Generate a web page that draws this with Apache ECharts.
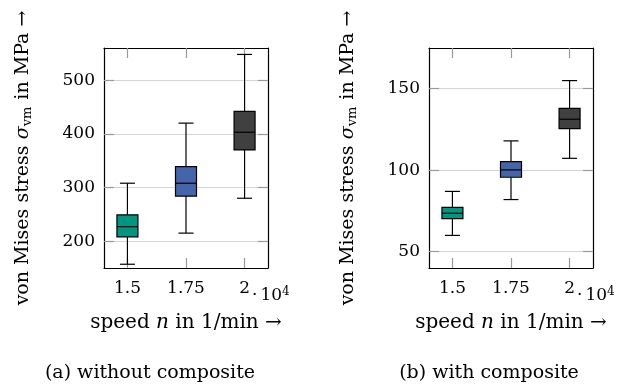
<!DOCTYPE html>
<html>
<head>
<meta charset="utf-8">
<script src="https://cdn.jsdelivr.net/npm/echarts@6/dist/echarts.min.js"></script>
<style>
  html, body { margin: 0; padding: 0; background: #fff; }
  #chart { width: 630px; height: 385px; }
</style>
</head>
<body>
<div id="chart"></div>
<script>
// speed in 1/min (x 10^4)
const speeds = [1.5, 1.75, 2];
const xTicks = [1.5, 1.75, 2];

// [min, Q1, median, Q3, max] in MPa
const withoutComposite = [
  [157, 208, 227, 249, 308],
  [215, 284, 308, 339, 420],
  [280, 370, 403, 442, 548]
];
const withComposite = [
  [60, 70.3, 73.6, 77.2, 87],
  [82, 95.7, 100.2, 105.3, 118],
  [107.3, 125.5, 131.3, 137.9, 155]
];
const yTicksA = [200, 300, 400, 500];
const yTicksB = [50, 100, 150];

const boxColors = ['#009682', '#4664aa', '#404040'];
const FONT = 'DejaVu Serif';
const TICK_SIZE = 17;
const NAME_SIZE = 19;

const chart = echarts.init(document.getElementById('chart'));

const toRows = (vals) => vals.map((v, i) => [speeds[i]].concat(v));

const renderBox = (params, api) => {
  const x = api.value(0);
  const lo = api.coord([x, api.value(1)]);
  const q1 = api.coord([x, api.value(2)]);
  const med = api.coord([x, api.value(3)]);
  const q3 = api.coord([x, api.value(4)]);
  const hi = api.coord([x, api.value(5)]);
  const cx = lo[0];
  const hb = 10.5;
  const hc = 7.5;
  const line = { stroke: '#000', lineWidth: 1.2 };
  return {
    type: 'group',
    children: [
      { type: 'line', shape: { x1: cx, y1: hi[1], x2: cx, y2: q3[1] }, style: line },
      { type: 'line', shape: { x1: cx, y1: q1[1], x2: cx, y2: lo[1] }, style: line },
      { type: 'line', shape: { x1: cx - hc, y1: hi[1], x2: cx + hc, y2: hi[1] }, style: line },
      { type: 'line', shape: { x1: cx - hc, y1: lo[1], x2: cx + hc, y2: lo[1] }, style: line },
      {
        type: 'rect',
        shape: { x: cx - hb, y: q3[1], width: hb * 2, height: q1[1] - q3[1] },
        style: { fill: boxColors[params.dataIndex], stroke: '#000', lineWidth: 1.2 }
      },
      { type: 'line', shape: { x1: cx - hb, y1: med[1], x2: cx + hb, y2: med[1] }, style: line }
    ]
  };
};

const yNameRich = {
  t: { fontFamily: FONT, fontSize: NAME_SIZE, color: '#000' },
  i: { fontFamily: FONT, fontSize: NAME_SIZE, fontStyle: 'italic', color: '#000' },
  s: { fontFamily: FONT, fontSize: 13, color: '#000', padding: [9, 1, 0, 0] }
};
const xNameRich = {
  t: { fontFamily: FONT, fontSize: 20, color: '#000' },
  i: { fontFamily: FONT, fontSize: 20, fontStyle: 'italic', color: '#000' }
};

const makeAxes = (gi, yMin, yMax, yTicks) => {
  const tick = { show: true, inside: true, length: 10, lineStyle: { color: '#999', width: 1.2 } };
  const axisLine = { show: true, lineStyle: { color: '#000', width: 1.2 } };
  const x = [
    {
      type: 'value', gridIndex: gi, position: 'bottom', min: 1.4, max: 2.1,
      axisLine: axisLine,
      axisTick: Object.assign({ customValues: xTicks }, tick),
      axisLabel: { customValues: xTicks, fontFamily: FONT, fontSize: TICK_SIZE, color: '#000', margin: 12 },
      splitLine: { show: false },
      name: '{t|speed }{i|n}{t| in 1/min →}',
      nameLocation: 'middle', nameGap: 45,
      nameTextStyle: { rich: xNameRich }
    },
    {
      type: 'value', gridIndex: gi, position: 'top', min: 1.4, max: 2.1,
      axisLine: axisLine,
      axisTick: Object.assign({ customValues: xTicks }, tick),
      axisLabel: { show: false },
      splitLine: { show: false }
    }
  ];
  const y = [
    {
      type: 'value', gridIndex: gi, position: 'left', min: yMin, max: yMax,
      axisLine: axisLine,
      axisTick: Object.assign({ customValues: yTicks }, tick),
      axisLabel: { customValues: yTicks, fontFamily: FONT, fontSize: TICK_SIZE, color: '#000', margin: 9 },
      splitLine: { show: true, lineStyle: { color: '#d4d4d4', width: 1.2 } },
      name: '{t|von Mises stress }{i|σ}{s|vm}{t| in MPa →}',
      nameLocation: 'middle', nameGap: 70, nameRotate: 90,
      nameTextStyle: { rich: yNameRich }
    },
    {
      type: 'value', gridIndex: gi, position: 'right', min: yMin, max: yMax,
      axisLine: axisLine,
      axisTick: Object.assign({ customValues: yTicks }, tick),
      axisLabel: { show: false },
      splitLine: { show: false }
    }
  ];
  return { x, y };
};

const a = makeAxes(0, 150, 560, yTicksA);
const b = makeAxes(1, 40, 175, yTicksB);

const expRich = {
  d: { fontFamily: FONT, fontSize: TICK_SIZE, fill: '#000', padding: [0, 3, 0, 0] },
  t: { fontFamily: FONT, fontSize: TICK_SIZE, fill: '#000' },
  sup: { fontFamily: FONT, fontSize: 12, fill: '#000', padding: [0, 0, 8, 0] }
};
const captionStyle = { fontFamily: FONT, fontSize: NAME_SIZE, fontWeight: 'normal', color: '#000' };

const option = {
  animation: false,
  backgroundColor: '#fff',
  grid: [
    { left: 104, top: 48, width: 164, height: 220 },
    { left: 429, top: 48, width: 164, height: 220 }
  ],
  xAxis: a.x.concat(b.x),
  yAxis: a.y.concat(b.y),
  title: [
    { text: '(a) without composite', left: 145, top: 359, textAlign: 'center', textStyle: captionStyle },
    { text: '(b) with composite', left: 484, top: 359, textAlign: 'center', textStyle: captionStyle }
  ],
  graphic: [
    { type: 'text', left: 252, top: 286, style: { text: '{d|·}{t|10}{sup|4}', rich: expRich } },
    { type: 'text', left: 577, top: 286, style: { text: '{d|·}{t|10}{sup|4}', rich: expRich } }
  ],
  series: [
    {
      type: 'custom', xAxisIndex: 0, yAxisIndex: 0,
      data: toRows(withoutComposite),
      encode: { x: 0, y: [1, 2, 3, 4, 5] },
      renderItem: renderBox
    },
    {
      type: 'custom', xAxisIndex: 2, yAxisIndex: 2,
      data: toRows(withComposite),
      encode: { x: 0, y: [1, 2, 3, 4, 5] },
      renderItem: renderBox
    }
  ]
};

chart.setOption(option);
</script>
</body>
</html>
